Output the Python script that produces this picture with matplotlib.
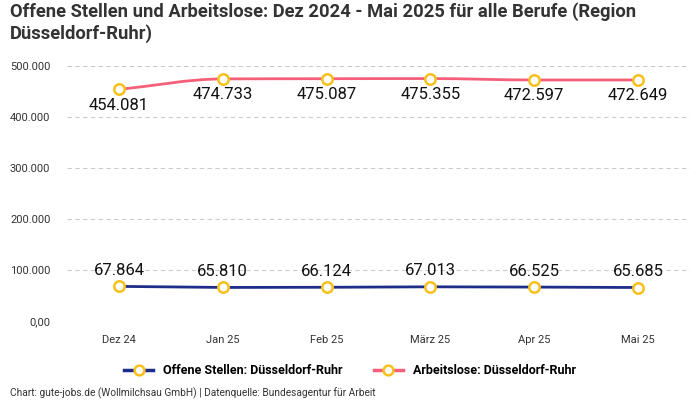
import numpy as np
import matplotlib.pyplot as plt
from matplotlib.path import Path
from matplotlib.patches import PathPatch
from matplotlib.lines import Line2D
from matplotlib.ticker import FuncFormatter

plt.rcParams['font.family'] = ['Roboto', 'DejaVu Sans']

months = ["Dez 24", "Jan 25", "Feb 25", "März 25", "Apr 25", "Mai 25"]
offene_stellen = [67864, 65810, 66124, 67013, 66525, 65685]
arbeitslose = [454081, 474733, 475087, 475355, 472597, 472649]

BLUE = "#1f2d8a"
PINK = "#f4607a"
MARKER = "#f7c01b"


def de_fmt(v):
    return f"{v:,.0f}".replace(",", ".")


def smooth_path(xs, ys):
    # monotone cubic bezier through the points (drawing only)
    xs = np.asarray(xs, float)
    ys = np.asarray(ys, float)
    n = len(xs)
    d = np.diff(ys) / np.diff(xs)
    m = np.zeros(n)
    m[0], m[-1] = d[0], d[-1]
    for i in range(1, n - 1):
        m[i] = 0 if d[i - 1] * d[i] <= 0 else 2 / (1 / d[i - 1] + 1 / d[i])
    verts = [(xs[0], ys[0])]
    codes = [Path.MOVETO]
    for i in range(n - 1):
        h = xs[i + 1] - xs[i]
        verts += [(xs[i] + h / 3, ys[i] + m[i] * h / 3),
                  (xs[i + 1] - h / 3, ys[i + 1] - m[i + 1] * h / 3),
                  (xs[i + 1], ys[i + 1])]
        codes += [Path.CURVE4] * 3
    return Path(verts, codes)


fig = plt.figure(figsize=(7, 4), dpi=100)
ax = fig.add_axes([67 / 700, 79 / 400, 623 / 700, 255 / 400])
x = np.arange(len(months))

ax.add_patch(PathPatch(smooth_path(x, arbeitslose), fill=False, color=PINK, lw=2, zorder=3))
ax.plot(x, offene_stellen, color=BLUE, lw=2, zorder=3)
for series in (offene_stellen, arbeitslose):
    ax.plot(x, series, ls="none", marker="o", ms=7.5, mfc="white", mec=MARKER,
            mew=1.8, zorder=4, clip_on=False)

for xi, v in zip(x, arbeitslose):
    ax.annotate(de_fmt(v), (xi, v), xytext=(0, -6), textcoords="offset points",
                ha="center", va="top", fontsize=12, color="#111111")
for xi, v in zip(x, offene_stellen):
    ax.annotate(de_fmt(v), (xi, v), xytext=(0, 6), textcoords="offset points",
                ha="center", va="bottom", fontsize=12, color="#111111")

ax.set_xlim(-0.5, len(months) - 0.5)
ax.set_ylim(0, 500000)
ax.set_yticks([0, 100000, 200000, 300000, 400000, 500000])
ax.yaxis.set_major_formatter(FuncFormatter(lambda v, p: "0,00" if v == 0 else de_fmt(v)))
ax.set_xticks(x)
ax.set_xticklabels(months)
ax.tick_params(axis="both", length=0, labelsize=8, colors="#333333")
ax.tick_params(axis="x", pad=10)
ax.tick_params(axis="y", pad=12)
ax.grid(axis="y", color="#cccccc", ls=(0, (4, 3)), lw=0.8)
ax.set_axisbelow(True)
for s in ax.spines.values():
    s.set_visible(False)

handles = [
    Line2D([], [], color=BLUE, lw=2.5, marker="o", ms=7, mfc="white", mec=MARKER, mew=1.8),
    Line2D([], [], color=PINK, lw=2.5, marker="o", ms=7, mfc="white", mec=MARKER, mew=1.8),
]
fig.legend(handles, ["Offene Stellen: Düsseldorf-Ruhr", "Arbeitslose: Düsseldorf-Ruhr"],
           loc="center", bbox_to_anchor=(0.5, 1 - 371 / 400), ncol=2, frameon=False,
           handlelength=2.3, columnspacing=2.5,
           prop={"weight": "bold", "size": 9})

fig.text(10 / 700, 1 - 2 / 400,
         "Offene Stellen und Arbeitslose: Dez 2024 - Mai 2025 für alle Berufe (Region\nDüsseldorf-Ruhr)",
         ha="left", va="top", fontsize=13.2, fontweight="bold", color="#333333", linespacing=1.2)
fig.text(10 / 700, 1 - 393 / 400,
         "Chart: gute-jobs.de (Wollmilchsau GmbH) | Datenquelle: Bundesagentur für Arbeit",
         ha="left", va="center", fontsize=7.3, color="#333333")

fig.savefig("out.png", dpi=100)
